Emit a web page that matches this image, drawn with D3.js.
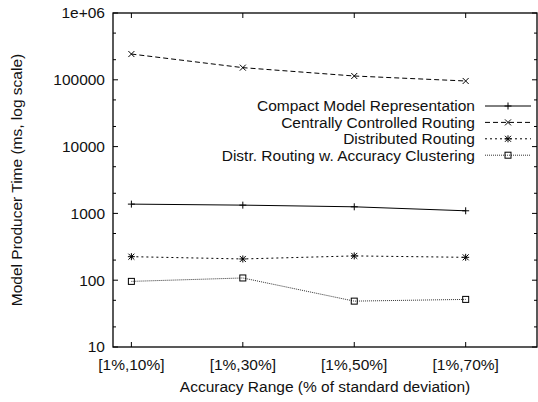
<!DOCTYPE html>
<html>
<head>
<meta charset="utf-8">
<script src="https://cdn.jsdelivr.net/npm/d3@7"></script>
<style>
body{margin:0;background:#fff}
text{font-family:"Liberation Sans",Arial,sans-serif;font-size:15.5px;fill:#111}
</style>
</head>
<body>
<svg id="chart" width="538" height="402"></svg>
<script>
let categories=["[1%,10%]","[1%,30%]","[1%,50%]","[1%,70%]"]
let seriesNames=["Compact Model Representation","Centrally Controlled Routing","Distributed Routing","Distr. Routing w. Accuracy Clustering"]
let compact=[1377,1330,1255,1094]
let central=[243000,152000,114000,96000]
let distributed=[225,208,231,220]
let clustering=[96,108,48.6,51.6]
let yTicks=[10,100,1000,10000,100000,1000000]
let yTickLabels=["10","100","1000","10000","100000","1e+06"]

let svg=d3.select("#chart")
let pL=113,pR=537,pT=13,pB=347

let x=d3.scaleLinear().domain([-0.165,3.64]).range([pL,pR])
let y=d3.scaleLog().domain([10,1e6]).range([pB,pT])

let minors=[]
yTicks.slice(0,-1).forEach(t=>{minors.push(t*2,t*5)})

// ticks (mirrored on all sides, gnuplot style)
let tk=svg.append("g").attr("stroke","#000").attr("stroke-width",1)
yTicks.forEach(t=>{
tk.append("line").attr("x1",pL).attr("x2",pL+5).attr("y1",y(t)).attr("y2",y(t))
tk.append("line").attr("x1",pR).attr("x2",pR-5).attr("y1",y(t)).attr("y2",y(t))
})
minors.forEach(t=>{
tk.append("line").attr("x1",pL).attr("x2",pL+3).attr("y1",y(t)).attr("y2",y(t))
tk.append("line").attr("x1",pR).attr("x2",pR-3).attr("y1",y(t)).attr("y2",y(t))
})
categories.forEach((c,i)=>{
tk.append("line").attr("x1",x(i)).attr("x2",x(i)).attr("y1",pB).attr("y2",pB-5)
tk.append("line").attr("x1",x(i)).attr("x2",x(i)).attr("y1",pT).attr("y2",pT+5)
})

svg.append("rect").attr("x",pL).attr("y",pT)
.attr("width",pR-pL).attr("height",pB-pT)
.attr("fill","none").attr("stroke","#000").attr("stroke-width",1.3)

// tick labels
yTicks.forEach((t,i)=>{
svg.append("text").attr("x",pL-8).attr("y",y(t)).attr("dy","0.35em")
.attr("text-anchor","end").text(yTickLabels[i])
})
categories.forEach((c,i)=>{
svg.append("text").attr("x",x(i)).attr("y",pB+23)
.attr("text-anchor","middle").text(c)
})

svg.append("text").attr("x",(pL+pR)/2).attr("y",392)
.attr("text-anchor","middle").text("Accuracy Range (% of standard deviation)")
svg.append("text").attr("transform","translate(22,"+((pT+pB)/2)+") rotate(-90)")
.attr("text-anchor","middle").text("Model Producer Time (ms, log scale)")

// series
let styles=[
{data:compact,dash:null,color:"#000",marker:"plus"},
{data:central,dash:"5,3",color:"#000",marker:"cross"},
{data:distributed,dash:"2,3",color:"#000",marker:"star"},
{data:clustering,dash:"1,1",color:"#333",marker:"square"}
]

function marker(g,type,cx,cy){
let s=3.5
if(type==="plus"||type==="star"){
g.append("line").attr("x1",cx-s).attr("x2",cx+s).attr("y1",cy).attr("y2",cy)
g.append("line").attr("x1",cx).attr("x2",cx).attr("y1",cy-s).attr("y2",cy+s)
}
if(type==="cross"||type==="star"){
let d=3
g.append("line").attr("x1",cx-d).attr("x2",cx+d).attr("y1",cy-d).attr("y2",cy+d)
g.append("line").attr("x1",cx-d).attr("x2",cx+d).attr("y1",cy+d).attr("y2",cy-d)
}
if(type==="square"){
g.append("rect").attr("x",cx-3).attr("y",cy-3).attr("width",6).attr("height",6).attr("fill","none")
}
}

let line=d3.line().x((d,i)=>x(i)).y(d=>y(d))

styles.forEach((s,k)=>{
let g=svg.append("g").attr("stroke",s.color).attr("stroke-width",1).attr("fill","none")
g.append("path").attr("d",line(s.data)).attr("stroke-dasharray",s.dash)
let mg=svg.append("g").attr("stroke","#000").attr("stroke-width",1)
s.data.forEach((v,i)=>marker(mg,s.marker,x(i),y(v)))

// legend
let ly=106+k*16.4
svg.append("text").attr("x",475).attr("y",ly).attr("dy","0.35em")
.attr("text-anchor","end").text(seriesNames[k])
g.append("line").attr("x1",485).attr("x2",531).attr("y1",ly).attr("y2",ly)
.attr("stroke-dasharray",s.dash)
marker(mg,s.marker,508,ly)
})
</script>
</body>
</html>
